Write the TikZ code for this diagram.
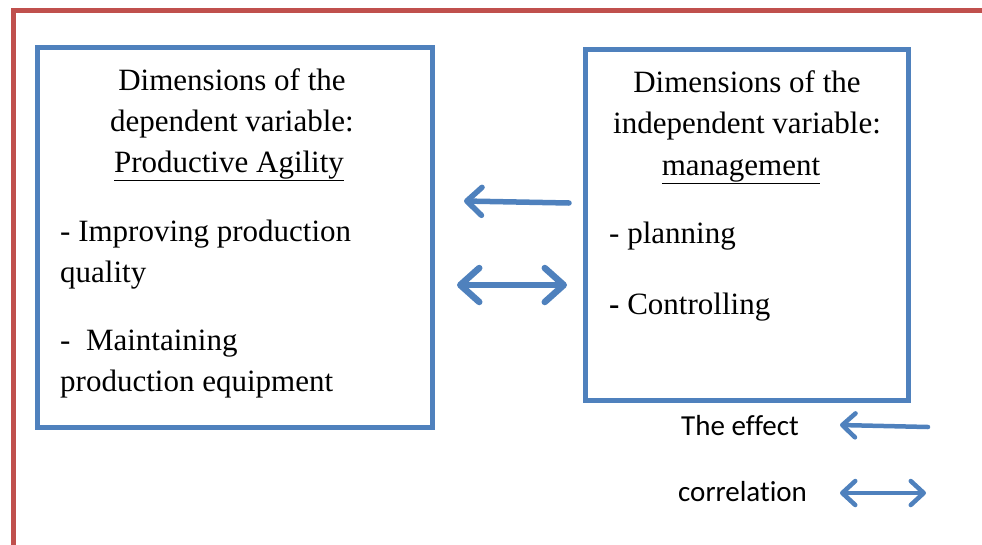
\documentclass[tikz,border=0pt]{standalone}
\usepackage{fontspec}
\setmainfont{Liberation Serif}
\newfontfamily\legendfont[Ligatures=NoCommon]{Carlito}
\usetikzlibrary{arrows.meta}
\definecolor{frameRed}{HTML}{C0504D}
\definecolor{boxBlue}{HTML}{4F81BD}
\begin{document}
\begin{tikzpicture}[x=1pt,y=-1pt,
  boxstyle/.style={draw=boxBlue,line width=5pt},
  txt/.style={inner sep=0pt,font=\fontsize{31}{31}\selectfont},
  leg/.style={inner sep=0pt,font=\legendfont\fontsize{29}{29}\selectfont},
  effarrow/.style={draw=boxBlue,line width=5.5pt,line cap=round,-{Straight Barb[length=15pt,width=28pt,line cap=round,line join=round]}},
  corarrow/.style={draw=boxBlue,line width=6.5pt,line cap=round,{Straight Barb[length=19pt,width=34pt,line cap=round,line join=round]}-{Straight Barb[length=19pt,width=34pt,line cap=round,line join=round]}},
  legeff/.style={draw=boxBlue,line width=4.5pt,line cap=round,-{Straight Barb[length=13pt,width=24pt,line cap=round,line join=round]}},
  legcor/.style={draw=boxBlue,line width=4.5pt,line cap=round,{Straight Barb[length=13pt,width=24pt,line cap=round,line join=round]}-{Straight Barb[length=13pt,width=24pt,line cap=round,line join=round]}}]
\useasboundingbox (0,0) rectangle (982,544);
% red frame
\coordinate (fb) at (13,546);
\coordinate (fc) at (13,10);
\coordinate (fr) at (984,10);
\draw[frameRed,line width=5pt] (fb) -- (fc) -- (fr);
% boxes
\node[boxstyle,minimum width=395pt,minimum height=380pt,inner sep=0pt] (L) at (234.5,237) {};
\node[boxstyle,minimum width=323pt,minimum height=351pt,inner sep=0pt] (R) at (746.5,224.5) {};
% left texts
\node[txt,anchor=base] (l1) at (232,90) {Dimensions of the};
\node[txt,anchor=base] (l2) at (232,131) {dependent variable:};
\node[txt,anchor=base] (l3) at (229,172) {\underline{Productive Agility}};
\node[txt,anchor=base west] (l4) at (60,241) {- Improving production};
\node[txt,anchor=base west] (l5) at (60,282) {quality};
\node[txt,anchor=base west] (l6) at (60,350) {-\ \ Maintaining};
\node[txt,anchor=base west] (l7) at (60,391) {production equipment};
% right texts
\node[txt,anchor=base] (r1) at (747,92) {Dimensions of the};
\node[txt,anchor=base] (r2) at (747,133) {independent variable:};
\node[txt,anchor=base] (r3) at (741,175) {\underline{management}};
\node[txt,anchor=base west] (r4) at (609,243) {- planning};
\node[txt,anchor=base west] (r5) at (609,314) {{\bfseries -} Controlling};
% arrows
\coordinate (e1) at (569,203);
\coordinate (e2) at (464,201);
\draw[effarrow] (e1) -- (e2);
\coordinate (c1) at (457,285);
\coordinate (c2) at (567,285);
\draw[corarrow] (c1) -- (c2);
% legend
\node[leg,anchor=base west] (g1) at (681,435) {The effect};
\node[leg,anchor=base west] (g2) at (678,501) {correlation};
\coordinate (ge1) at (928,427);
\coordinate (ge2) at (840,425);
\draw[legeff] (ge1) -- (ge2);
\coordinate (gc1) at (840,493);
\coordinate (gc2) at (926,493);
\draw[legcor] (gc1) -- (gc2);
\end{tikzpicture}
\end{document}
